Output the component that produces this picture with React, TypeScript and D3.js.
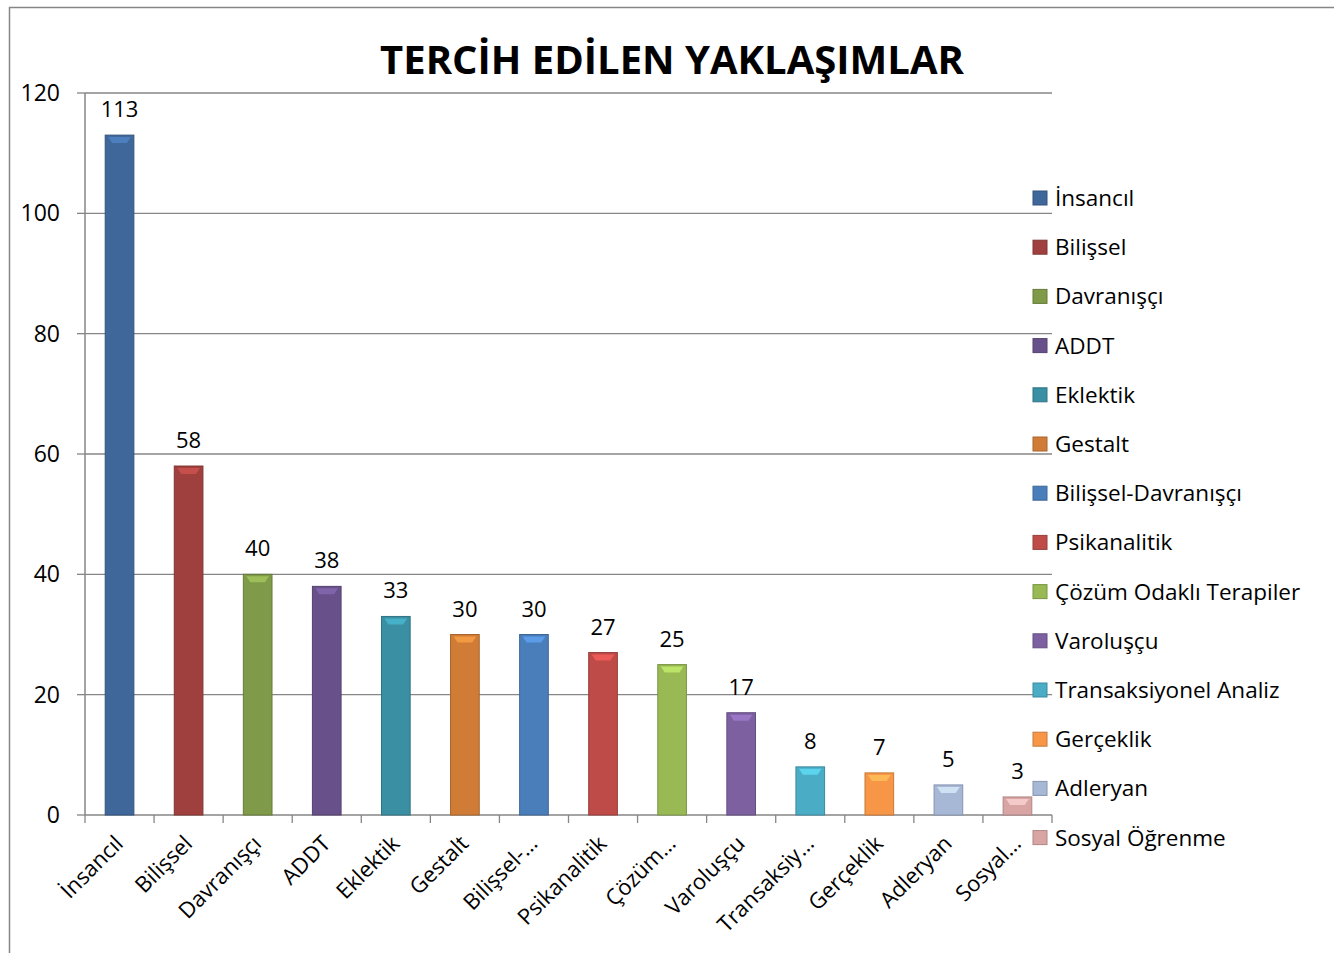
import React from "react";
import * as d3 from "d3";

const categories = ["İnsancıl","Bilişsel","Davranışçı","ADDT","Eklektik","Gestalt","Bilişsel-Davranışçı","Psikanalitik","Çözüm Odaklı Terapiler","Varoluşçu","Transaksiyonel Analiz","Gerçeklik","Adleryan","Sosyal Öğrenme"];
const axisLabels = ["İnsancıl","Bilişsel","Davranışçı","ADDT","Eklektik","Gestalt","Bilişsel-…","Psikanalitik","Çözüm…","Varoluşçu","Transaksiy…","Gerçeklik","Adleryan","Sosyal…"];
const values = [113,58,40,38,33,30,30,27,25,17,8,7,5,3];
const yTicks = [0,20,40,60,80,100,120];
const colors = ["#3F679A","#A0403E","#7F9A48","#68518A","#3A8FA3","#D07C36","#4A7EBB","#BE4B48","#98B954","#7D60A0","#4BACC6","#F79646","#A7B7D6","#D9A5A4"];
const title = "TERCİH EDİLEN YAKLAŞIMLAR";

const FONT = "'Open Sans', 'Noto Sans', sans-serif";

export default function App() {
  const W = 1334, H = 953;
  const left = 85, right = 1052, top = 93, bottom = 815;
  const x = d3.scaleBand<string>().domain(categories).range([left, right]).paddingInner(0.585).paddingOuter(0.2925);
  const y = d3.scaleLinear().domain([0, 120]).range([bottom, top]);
  const step = (right - left) / categories.length;
  const grid = "#868686";
  return (
    <svg width={W} height={H} style={{ position: "absolute", left: 0, top: 0, background: "#fff" }}>
      <rect x={9.5} y={7.5} width={W} height={H} fill="#fff" stroke="#868686" strokeWidth={1.5} />
      <text x={672} y={74} textAnchor="middle" fontFamily={FONT} fontWeight="bold" fontSize={40} fill="#000">{title}</text>
      {yTicks.map(t => (
        <g key={t}>
          {t > 0 && <line x1={left} x2={right} y1={y(t)} y2={y(t)} stroke={grid} strokeWidth={1.3} />}
          <line x1={left - 8} x2={left} y1={y(t)} y2={y(t)} stroke={grid} strokeWidth={1.3} />
          <text x={60} y={y(t) + 8} textAnchor="end" fontFamily={FONT} fontSize={23} fill="#000">{t}</text>
        </g>
      ))}
      <line x1={left} x2={left} y1={top} y2={bottom} stroke={grid} strokeWidth={1.5} />
      <line x1={left} x2={right} y1={bottom} y2={bottom} stroke={grid} strokeWidth={1.5} />
      {d3.range(categories.length + 1).map(i => (
        <line key={i} x1={left + i * step} x2={left + i * step} y1={bottom} y2={bottom + 8} stroke={grid} strokeWidth={1.3} />
      ))}
      {categories.map((c, i) => {
        const bx = x(c)!;
        const bw = x.bandwidth();
        const by = y(values[i]);
        const bh = bottom - by;
        const col = colors[i];
        const dark = d3.color(col)!.darker(0.6).toString();
        const light = d3.color(col)!.brighter(0.8).toString();
        const hh = Math.min(6, bh - 2);
        return (
          <g key={c}>
            <rect x={bx} y={by} width={bw} height={bh} fill={col} stroke={dark} strokeWidth={1} />
            {hh > 1 && <path d={`M${bx + 3},${by + 2} L${bx + bw - 3},${by + 2} L${bx + bw - 7},${by + 2 + hh} L${bx + 7},${by + 2 + hh} Z`} fill={light} opacity={0.7} />}
            <text x={bx + bw / 2} y={by - 18} textAnchor="middle" fontFamily={FONT} fontSize={22} fill="#000">{values[i]}</text>
            <text transform={`translate(${bx + bw / 2 + 5},${bottom + 30}) rotate(-45)`} textAnchor="end" fontFamily={FONT} fontSize={22} fill="#000">{axisLabels[i]}</text>
          </g>
        );
      })}
      {categories.map((c, i) => {
        const cy = 198 + i * 49.2;
        const col = colors[i];
        return (
          <g key={"l" + c}>
            <rect x={1033} y={cy - 7} width={14} height={14} fill={col} stroke={d3.color(col)!.darker(0.6).toString()} strokeWidth={1} />
            <text x={1055} y={cy + 8} fontFamily={FONT} fontSize={22.5} fill="#000">{c}</text>
          </g>
        );
      })}
    </svg>
  );
}
